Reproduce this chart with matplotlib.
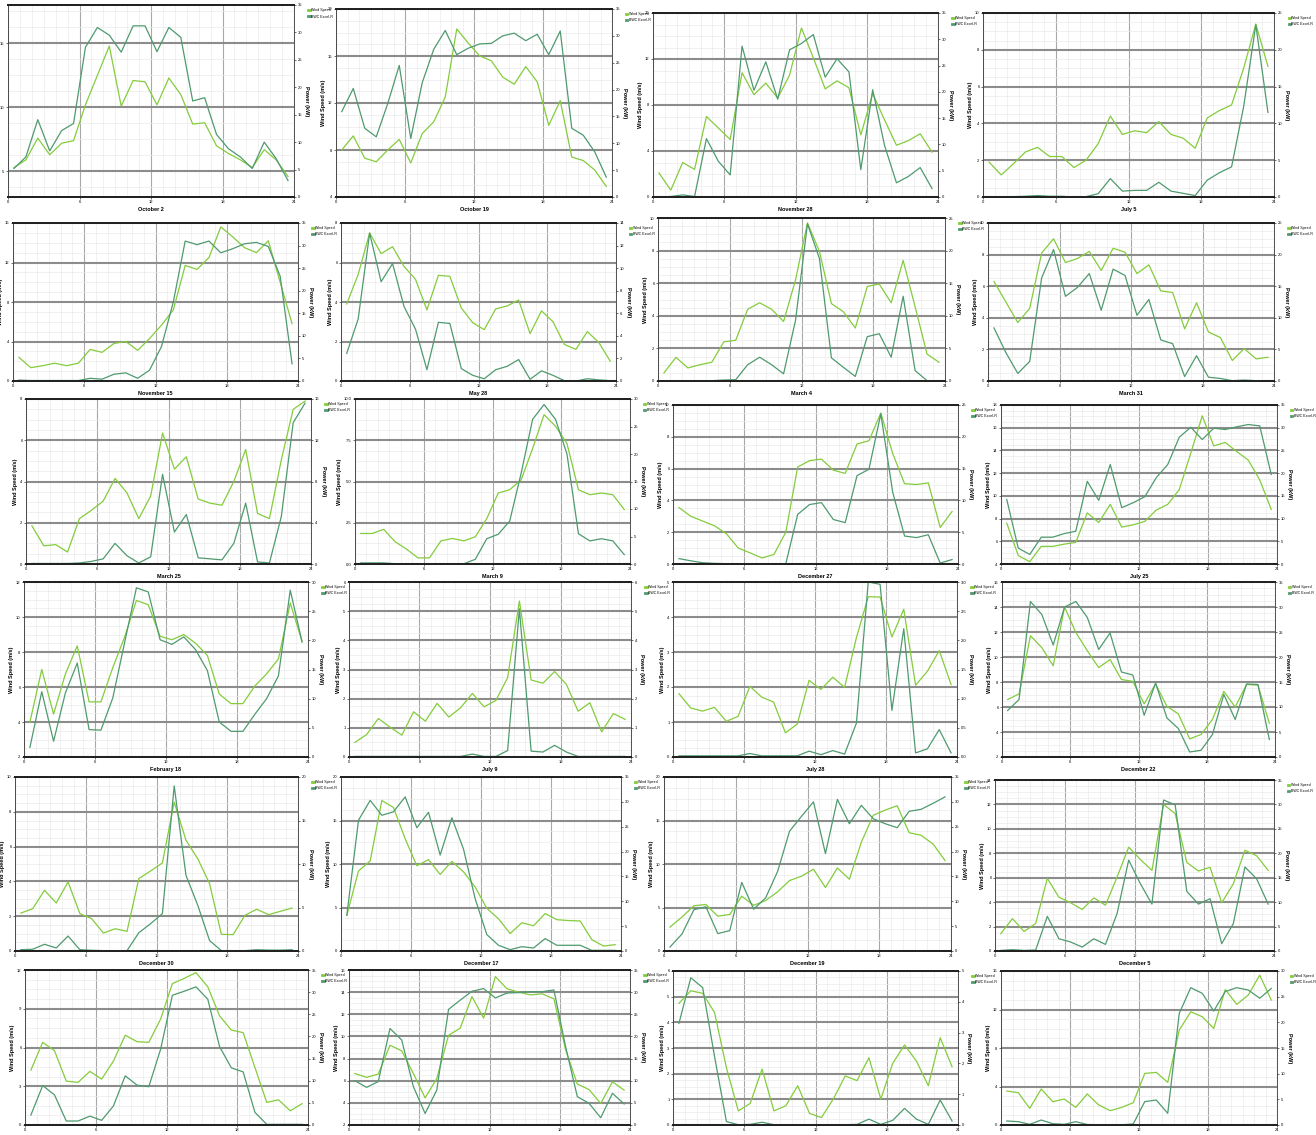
import numpy as np
import matplotlib
matplotlib.use("Agg")
import matplotlib.pyplot as plt
from matplotlib.lines import Line2D
from matplotlib.ticker import MultipleLocator, AutoMinorLocator

plt.rcParams['font.family'] = ['Liberation Sans', 'DejaVu Sans']

W, H = 1316, 1135
WIND_C = '#84cc3c'
POWER_C = '#4f9a6f'

hours = np.arange(24) + 0.5

# hourly wind speed (m/s) and turbine output (kW) for each day
wind_oct02 = [5.3, 5.9, 7.6, 6.3, 7.2, 7.4, 10.2, 12.5, 14.8, 10.1, 12.1, 12.0, 10.2, 12.3, 11.0, 8.7, 8.8, 7.0, 6.4, 5.9, 5.3, 6.7, 5.9, 4.6]
power_oct02 = [5.2, 7.3, 14.1, 8.4, 12.1, 13.4, 27.3, 30.9, 29.5, 26.4, 31.2, 31.2, 26.5, 30.9, 29.1, 17.5, 18.1, 11.4, 8.8, 7.3, 5.2, 10.0, 7.0, 3.0]
wind_oct19 = [8.0, 9.2, 7.3, 7.0, 8.0, 8.9, 6.9, 9.4, 10.4, 12.5, 18.3, 17.1, 16.0, 15.6, 14.2, 13.6, 15.1, 13.8, 10.1, 12.2, 7.4, 7.1, 6.3, 4.9]
power_oct19 = [15.9, 20.2, 12.8, 11.2, 17.4, 24.5, 10.9, 21.3, 27.5, 31.0, 26.5, 27.7, 28.5, 28.6, 30.0, 30.5, 29.1, 30.3, 26.5, 30.9, 12.8, 11.5, 8.4, 3.7]
wind_nov28 = [2.1, 0.6, 3.0, 2.4, 7.0, 6.0, 5.0, 10.8, 8.9, 9.9, 8.6, 10.6, 14.7, 12.1, 9.4, 10.1, 9.5, 5.4, 9.0, 6.7, 4.5, 4.9, 5.5, 3.9]
power_nov28 = [0.0, 0.1, 0.4, 0.1, 11.1, 6.8, 4.2, 28.7, 20.3, 25.7, 18.6, 28.0, 29.2, 30.9, 22.8, 26.3, 23.8, 5.2, 20.4, 9.8, 2.7, 3.9, 5.6, 1.6]
wind_jul05 = [1.9, 1.2, 1.8, 2.45, 2.7, 2.2, 2.2, 1.6, 2.0, 2.9, 4.4, 3.4, 3.6, 3.5, 4.1, 3.4, 3.2, 2.65, 4.3, 4.7, 5.0, 7.0, 9.4, 7.1]
power_jul05 = [0.05, 0.05, 0.05, 0.1, 0.2, 0.1, 0.1, 0.0, 0.05, 0.45, 2.5, 0.8, 0.9, 0.9, 2.0, 0.8, 0.5, 0.2, 2.3, 3.3, 4.1, 12.3, 23.4, 11.5]
wind_nov15 = [2.4, 1.35, 1.55, 1.8, 1.55, 1.8, 3.2, 2.9, 3.8, 4.0, 3.1, 4.3, 5.65, 7.2, 11.7, 11.3, 12.5, 15.6, 14.6, 13.5, 13.0, 14.2, 10.0, 5.8]
power_nov15 = [0.2, 0.1, 0.1, 0.1, 0.1, 0.1, 0.6, 0.4, 1.5, 1.8, 0.6, 2.4, 7.6, 17.5, 31.0, 30.2, 31.0, 28.4, 29.3, 30.4, 30.7, 29.8, 23.2, 3.8]
wind_may28 = [3.9, 5.4, 7.5, 6.45, 6.8, 5.8, 5.15, 3.6, 5.35, 5.3, 3.7, 2.95, 2.6, 3.65, 3.8, 4.1, 2.4, 3.55, 3.0, 1.85, 1.6, 2.5, 1.95, 1.0]
power_may28 = [2.45, 5.5, 13.1, 8.8, 10.4, 6.6, 4.6, 1.0, 5.2, 5.1, 1.1, 0.5, 0.2, 1.0, 1.3, 1.9, 0.15, 0.9, 0.5, 0.03, 0.0, 0.2, 0.1, 0.03]
wind_mar04 = [0.5, 1.45, 0.8, 1.0, 1.15, 2.4, 2.5, 4.4, 4.8, 4.4, 3.65, 6.2, 9.7, 7.95, 4.75, 4.25, 3.25, 5.8, 5.95, 4.8, 7.4, 4.55, 1.65, 1.15]
power_mar04 = [0.05, 0.05, 0.05, 0.05, 0.05, 0.15, 0.2, 2.5, 3.65, 2.5, 1.1, 9.3, 24.1, 18.8, 3.55, 2.1, 0.7, 6.8, 7.25, 3.65, 13.0, 1.6, 0.05, 0.0]
wind_mar31 = [6.3, 5.0, 3.7, 4.6, 8.1, 9.0, 7.5, 7.75, 8.2, 7.0, 8.4, 8.15, 6.8, 7.35, 5.7, 5.6, 3.3, 4.95, 3.1, 2.75, 1.3, 2.05, 1.4, 1.5]
power_mar31 = [8.4, 4.5, 1.2, 3.1, 16.3, 20.8, 13.4, 14.8, 17.0, 11.2, 17.7, 16.7, 10.4, 12.9, 6.5, 5.9, 0.7, 4.0, 0.6, 0.4, 0.05, 0.15, 0.05, 0.0]
wind_mar25 = [1.85, 0.88, 0.94, 0.58, 2.2, 2.6, 3.05, 4.15, 3.45, 2.2, 3.3, 6.35, 4.6, 5.2, 3.15, 2.95, 2.85, 4.0, 5.55, 2.45, 2.2, 5.05, 7.5, 7.9]
power_mar25 = [0.05, 0.05, 0.05, 0.05, 0.1, 0.25, 0.5, 2.0, 0.8, 0.1, 0.7, 8.7, 3.1, 4.8, 0.6, 0.5, 0.4, 2.0, 5.9, 0.2, 0.1, 4.6, 13.7, 15.6]
wind_mar09 = [1.85, 1.85, 2.1, 1.35, 0.9, 0.37, 0.37, 1.4, 1.55, 1.4, 1.65, 2.75, 4.3, 4.5, 5.1, 7.0, 9.05, 8.35, 7.3, 4.5, 4.2, 4.3, 4.2, 3.3]
power_mar09 = [0.2, 0.2, 0.2, 0.05, 0.05, 0.05, 0.05, 0.05, 0.05, 0.05, 0.85, 4.6, 5.4, 7.8, 16.5, 26.3, 29.0, 26.3, 20.0, 5.5, 4.2, 4.6, 4.2, 1.7]
wind_dec27 = [3.55, 3.0, 2.7, 2.4, 1.9, 1.0, 0.7, 0.38, 0.6, 2.0, 6.1, 6.5, 6.6, 5.9, 5.7, 7.55, 7.75, 9.5, 6.95, 5.05, 5.0, 5.1, 2.3, 3.3]
power_dec27 = [0.85, 0.5, 0.2, 0.1, 0.05, 0.05, 0.05, 0.05, 0.05, 0.05, 7.8, 9.35, 9.65, 7.0, 6.5, 13.9, 14.9, 23.6, 11.3, 4.4, 4.15, 4.6, 0.15, 0.7]
wind_jul25 = [7.6, 4.75, 4.2, 5.55, 5.55, 5.75, 5.9, 8.5, 7.65, 9.25, 7.25, 7.45, 7.75, 8.75, 9.25, 10.55, 13.75, 17.05, 14.4, 14.7, 13.9, 13.15, 11.4, 8.8]
power_jul25 = [14.2, 3.5, 2.1, 5.9, 5.9, 6.7, 7.2, 18.2, 14.0, 21.9, 12.4, 13.5, 14.8, 19.0, 21.9, 27.9, 30.1, 27.4, 29.9, 29.6, 30.2, 30.7, 30.4, 19.7]
wind_feb18 = [4.0, 7.0, 4.45, 6.75, 8.35, 5.15, 5.15, 7.1, 8.85, 10.95, 10.7, 8.9, 8.7, 9.0, 8.5, 7.8, 5.6, 5.05, 5.05, 6.05, 6.75, 7.6, 10.8, 8.6]
power_feb18 = [1.65, 11.2, 2.7, 11.0, 16.1, 4.7, 4.6, 10.1, 19.6, 29.0, 28.3, 20.1, 19.3, 20.6, 18.4, 14.8, 6.0, 4.4, 4.4, 7.3, 10.0, 13.9, 28.6, 19.7]
wind_jul09 = [0.5, 0.77, 1.32, 1.02, 0.75, 1.55, 1.23, 1.84, 1.37, 1.69, 2.18, 1.72, 1.94, 2.72, 5.35, 2.64, 2.53, 2.93, 2.49, 1.57, 1.86, 0.86, 1.49, 1.29]
power_jul09 = [0.02, 0.02, 0.02, 0.02, 0.02, 0.02, 0.02, 0.02, 0.02, 0.02, 0.1, 0.02, 0.02, 0.22, 5.08, 0.2, 0.17, 0.4, 0.17, 0.02, 0.02, 0.02, 0.02, 0.02]
wind_jul28 = [1.81, 1.4, 1.31, 1.42, 1.02, 1.16, 2.02, 1.71, 1.57, 0.69, 0.94, 2.19, 1.93, 2.28, 1.99, 3.41, 4.58, 4.57, 3.43, 4.22, 2.05, 2.45, 3.04, 2.07]
power_jul28 = [0.02, 0.02, 0.02, 0.02, 0.02, 0.02, 0.06, 0.02, 0.02, 0.02, 0.02, 0.1, 0.04, 0.11, 0.05, 0.58, 3.0, 2.96, 0.8, 2.2, 0.07, 0.14, 0.47, 0.07]
wind_dec22 = [6.6, 7.05, 11.7, 10.75, 9.3, 14.0, 11.95, 10.5, 9.15, 9.8, 8.2, 8.05, 6.25, 7.85, 6.05, 5.45, 3.45, 3.8, 5.0, 7.25, 6.0, 7.8, 7.75, 4.7]
power_dec22 = [9.3, 11.5, 31.1, 28.5, 22.4, 30.0, 31.1, 27.9, 21.5, 24.8, 17.0, 16.4, 8.35, 14.8, 7.8, 5.7, 1.0, 1.35, 4.5, 12.5, 7.5, 14.6, 14.5, 3.5]
wind_dec30 = [2.18, 2.43, 3.49, 2.76, 3.97, 2.15, 1.86, 1.03, 1.28, 1.13, 4.16, 4.6, 5.06, 8.56, 6.36, 5.3, 3.87, 0.96, 0.94, 2.05, 2.4, 2.09, 2.28, 2.47]
power_dec30 = [0.15, 0.2, 0.77, 0.35, 1.72, 0.15, 0.08, 0.04, 0.04, 0.04, 2.1, 3.14, 4.3, 18.97, 8.7, 5.25, 1.2, 0.04, 0.04, 0.04, 0.15, 0.1, 0.1, 0.15]
wind_dec17 = [4.1, 9.2, 10.35, 17.3, 16.5, 12.9, 9.8, 10.5, 8.8, 10.3, 9.1, 7.35, 4.9, 3.7, 2.0, 3.25, 2.9, 4.3, 3.6, 3.5, 3.45, 1.3, 0.57, 0.73]
power_dec17 = [7.2, 26.3, 30.3, 27.3, 28.0, 31.0, 24.8, 27.9, 19.3, 26.8, 20.5, 10.5, 3.3, 1.15, 0.27, 0.87, 0.6, 2.5, 1.15, 1.15, 1.15, 0.13, 0.13, 0.13]
wind_dec19 = [2.75, 3.9, 5.2, 5.35, 4.0, 4.2, 6.3, 5.25, 5.8, 6.8, 8.1, 8.6, 9.4, 7.3, 9.55, 8.25, 12.5, 15.6, 16.2, 16.7, 13.6, 13.3, 12.3, 10.4]
power_dec19 = [0.8, 3.4, 8.3, 8.9, 3.5, 4.1, 13.8, 8.4, 10.7, 16.0, 24.1, 27.1, 30.0, 19.6, 30.5, 25.6, 29.3, 26.6, 25.6, 24.8, 28.1, 28.5, 29.7, 31.0]
wind_dec05 = [1.42, 2.65, 1.6, 2.25, 5.95, 4.4, 3.95, 3.4, 4.35, 3.75, 6.05, 8.5, 7.5, 6.6, 12.0, 11.25, 7.25, 6.55, 6.85, 3.95, 5.5, 8.25, 7.8, 6.6]
power_dec05 = [0.12, 0.27, 0.12, 0.2, 7.1, 2.5, 1.85, 0.8, 2.5, 1.35, 7.65, 18.6, 13.8, 9.6, 30.9, 29.9, 12.2, 9.6, 10.7, 1.5, 5.6, 17.2, 14.8, 9.6]
wind_dec06 = [4.25, 6.4, 5.75, 3.4, 3.3, 4.15, 3.55, 4.95, 6.95, 6.45, 6.4, 8.2, 10.95, 11.35, 11.8, 10.7, 8.45, 7.35, 7.15, 4.45, 1.75, 1.95, 1.1, 1.65]
power_dec06 = [2.25, 8.9, 6.8, 0.9, 0.9, 2.0, 1.05, 4.3, 11.1, 9.0, 8.65, 17.1, 29.3, 30.2, 31.2, 28.4, 17.7, 12.9, 12.0, 2.85, 0.15, 0.15, 0.15, 0.15]
wind_dec01 = [6.65, 6.3, 6.6, 9.2, 8.7, 6.65, 4.45, 6.2, 10.1, 10.75, 13.6, 11.65, 15.4, 14.3, 14.0, 13.75, 13.85, 13.4, 8.8, 5.7, 5.2, 3.95, 5.9, 5.15]
power_dec01 = [10.0, 8.5, 9.8, 21.8, 19.2, 8.65, 2.6, 7.9, 26.1, 28.2, 30.2, 30.8, 28.7, 29.8, 29.9, 30.1, 30.1, 30.5, 17.7, 6.4, 4.9, 1.65, 7.15, 4.75]
wind_jul14 = [4.74, 5.23, 5.13, 4.38, 2.23, 0.55, 0.84, 2.18, 0.55, 0.75, 1.53, 0.45, 0.29, 1.01, 1.91, 1.73, 2.62, 1.01, 2.4, 3.12, 2.49, 1.53, 3.4, 2.27]
power_jul14 = [3.3, 4.78, 4.46, 2.22, 0.11, 0.01, 0.02, 0.09, 0.01, 0.01, 0.01, 0.01, 0.01, 0.01, 0.01, 0.02, 0.19, 0.02, 0.15, 0.54, 0.19, 0.02, 0.81, 0.13]
wind_jul02 = [3.53, 3.36, 1.73, 3.74, 2.42, 2.7, 1.83, 3.22, 2.08, 1.49, 1.83, 2.32, 5.36, 5.47, 4.43, 9.86, 11.76, 11.25, 10.03, 14.08, 12.53, 13.5, 15.57, 12.98]
power_jul02 = [0.78, 0.65, 0.13, 0.97, 0.26, 0.13, 0.65, 0.1, 0.05, 0.05, 0.05, 0.2, 4.55, 4.87, 2.27, 21.75, 26.75, 25.65, 22.2, 26.0, 26.75, 26.3, 24.7, 26.6]

dates = ["October 2", "October 19", "November 28", "July 5",
         "November 15", "May 28", "March 4", "March 31",
         "March 25", "March 9", "December 27", "July 25",
         "February 18", "July 9", "July 28", "December 22",
         "December 30", "December 17", "December 19", "December 5",
         "December 6", "December 1", "July 14", "July 2"]

wind_series = [wind_oct02, wind_oct19, wind_nov28, wind_jul05,
               wind_nov15, wind_may28, wind_mar04, wind_mar31,
               wind_mar25, wind_mar09, wind_dec27, wind_jul25,
               wind_feb18, wind_jul09, wind_jul28, wind_dec22,
               wind_dec30, wind_dec17, wind_dec19, wind_dec05,
               wind_dec06, wind_dec01, wind_jul14, wind_jul02]
power_series = [power_oct02, power_oct19, power_nov28, power_jul05,
                power_nov15, power_may28, power_mar04, power_mar31,
                power_mar25, power_mar09, power_dec27, power_jul25,
                power_feb18, power_jul09, power_jul28, power_dec22,
                power_dec30, power_dec17, power_dec19, power_dec05,
                power_dec06, power_dec01, power_jul14, power_jul02]

# pixel boxes: x of hour 0, x of hour 24, top, bottom
boxes = [(8, 294, 5, 197), (336, 612, 9, 197), (653, 938, 13, 197), (983, 1274, 13, 197),
         (13, 298, 223, 381), (341, 616, 223, 381), (658, 945, 218, 381), (988, 1274, 223, 381),
         (26, 311, 399, 564), (355, 630, 399, 564), (673, 958, 405, 564), (1001, 1277, 405, 564),
         (24, 308, 582, 757), (349, 631, 582, 757), (673, 957, 582, 757), (1002, 1275, 582, 757),
         (15, 298, 777, 951), (341, 621, 777, 951), (664, 951, 777, 951), (995, 1274, 780, 951),
         (25, 308, 970, 1125), (349, 630, 970, 1125), (673, 958, 971, 1125), (1001, 1277, 971, 1125)]

# left axis (min, max, step) and right axis (max, step)
left_axes = [(3, 18, 5), (4, 20, 4), (0, 16, 4), (0, 10, 2),
             (0, 16, 4), (0, 8, 2), (0, 10, 2), (0, 10, 2),
             (0, 8, 2), (0, 10, 2.5), (0, 10, 2), (4, 18, 2),
             (2, 12, 2), (0, 6, 1), (0, 5, 1), (2, 16, 2),
             (0, 10, 2), (0, 20, 5), (0, 20, 5), (0, 14, 2),
             (0, 12, 3), (2, 16, 2), (0, 6, 1), (0, 16, 4)]
right_axes = [(35, 5), (35, 5), (35, 5), (25, 5),
              (35, 5), (14, 2), (25, 5), (25, 5),
              (16, 4), (30, 5), (25, 5), (35, 5),
              (30, 5), (6, 1), (3, 0.5), (35, 5),
              (20, 5), (35, 5), (35, 5), (35, 5),
              (35, 5), (35, 5), (5, 1), (30, 5)]

fig = plt.figure(figsize=(W / 100, H / 100), dpi=100)


def draw_panel(box, date, ws, pw, laxis, raxis):
    x0, x1, y0, y1 = box
    ax = fig.add_axes([x0 / W, 1 - y1 / H, (x1 - x0) / W, (y1 - y0) / H])
    lo, hi, step = laxis
    ax.set_xlim(0, 24)
    ax.set_ylim(lo, hi)
    ax.xaxis.set_major_locator(MultipleLocator(6))
    ax.xaxis.set_minor_locator(MultipleLocator(1))
    ax.yaxis.set_major_locator(MultipleLocator(step))
    ax.yaxis.set_minor_locator(AutoMinorLocator(4))
    ax.grid(True, which='minor', color='#ebebeb', lw=0.5)
    ax.grid(True, which='major', axis='x', color='#a8a8a8', lw=0.8)
    ax.grid(True, which='major', axis='y', color='#8c8c8c', lw=1.5)
    ax.set_axisbelow(True)

    ax2 = ax.twinx()
    ax2.set_ylim(0, raxis[0])
    ax2.yaxis.set_major_locator(MultipleLocator(raxis[1]))

    ax.plot(hours, ws, color=WIND_C, lw=0.9, zorder=3)
    ax2.plot(hours, pw, color=POWER_C, lw=0.9)

    for a in (ax, ax2):
        a.tick_params(labelsize=3, length=1.5, width=0.4, pad=1)
        a.tick_params(which='minor', length=0)
        for side in ('top', 'bottom'):
            a.spines[side].set_linewidth(1.4)
            a.spines[side].set_color('#222222')
        for side in ('left', 'right'):
            a.spines[side].set_linewidth(0.5)
            a.spines[side].set_color('#444444')

    ax.set_ylabel('Wind Speed (m/s)', fontsize=4, fontweight='bold', labelpad=1.5)
    ax2.set_ylabel('Power (kW)', fontsize=4, fontweight='bold', rotation=270, labelpad=5)
    ax.set_xlabel(date, fontsize=4, fontweight='bold', labelpad=1.5)

    handles = [Line2D([], [], color=WIND_C, lw=2), Line2D([], [], color=POWER_C, lw=2)]
    ax2.legend(handles, ['Wind Speed', 'BWC Excel-R'], loc='upper left',
               bbox_to_anchor=(1.045, 0.99), fontsize=2.6, frameon=False,
               handlelength=0.4, handletextpad=0.4, borderaxespad=0,
               labelspacing=0.6)


for i in range(len(dates)):
    draw_panel(boxes[i], dates[i], wind_series[i], power_series[i],
               left_axes[i], right_axes[i])

fig.savefig('out.png', dpi=100)
